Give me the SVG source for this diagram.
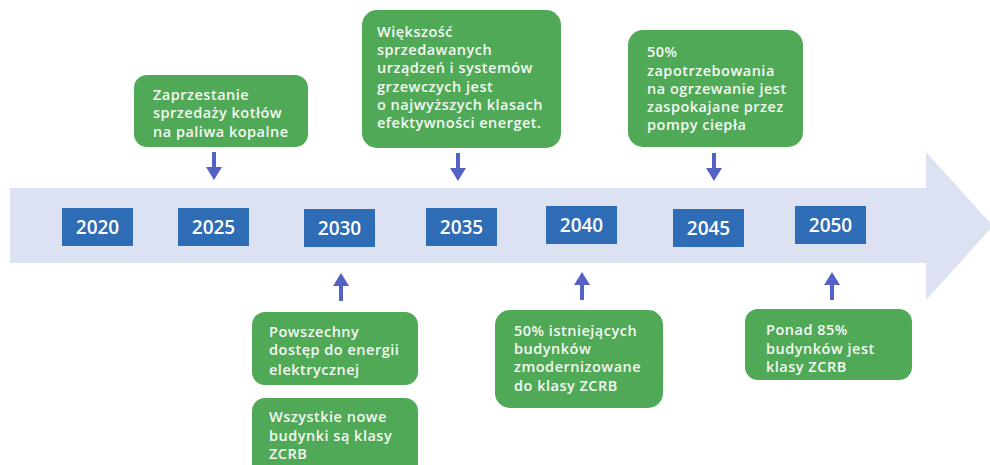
<svg xmlns="http://www.w3.org/2000/svg" width="990" height="465" viewBox="0 0 990 465">
  <defs>
    <style>
      .band { fill: #DCE2F2; }
      .year rect { fill: #2F6CB6; }
      .year text { fill: #FFFFFF; font-family: "Open Sans", "Liberation Sans", sans-serif; font-weight: 600; font-size: 19px; text-anchor: middle; }
      .note rect { fill: #50A957; }
      .note text { fill: #F4F8F2; font-family: "Open Sans", "Liberation Sans", sans-serif; font-weight: 600; font-size: 14.5px; letter-spacing: 0.5px; }
      .conn line { stroke: #5462C4; stroke-width: 4; fill: none; }
    </style>
    <marker id="head" viewBox="0 0 13 16" refX="0" refY="8" markerWidth="13" markerHeight="16" markerUnits="userSpaceOnUse" orient="auto">
      <path d="M0,0 L13,8 L0,16 Z" fill="#5462C4"/>
    </marker>
  </defs>
  <rect width="990" height="465" fill="#FFFFFF"/>

  <g id="timeline">
    <path class="band" d="M10,188 L926,188 L926,152 L993,226 L926,300 L926,263 L10,263 Z"/>
  </g>

  <g id="y2020" class="year"><rect x="62" y="208" width="71" height="38"/><text x="97.5" y="234">2020</text></g>
  <g id="y2025" class="year"><rect x="178" y="208" width="71" height="38"/><text x="213.5" y="234">2025</text></g>
  <g id="y2030" class="year"><rect x="304" y="209" width="71" height="38"/><text x="339.5" y="235">2030</text></g>
  <g id="y2035" class="year"><rect x="426" y="208" width="71" height="38"/><text x="461.5" y="234">2035</text></g>
  <g id="y2040" class="year"><rect x="546" y="206" width="71" height="38"/><text x="581.5" y="232">2040</text></g>
  <g id="y2045" class="year"><rect x="673" y="209" width="71" height="38"/><text x="708.5" y="235">2045</text></g>
  <g id="y2050" class="year"><rect x="795" y="206" width="71" height="38"/><text x="830.5" y="232">2050</text></g>

  <g id="n2025" class="note">
    <rect x="134" y="75" width="174" height="72" rx="13"/>
    <text x="153" y="100">Zaprzestanie</text>
    <text x="153" y="118">sprzedaży kotłów</text>
    <text x="153" y="137">na paliwa kopalne</text>
  </g>

  <g id="n2035" class="note">
    <rect x="362" y="10" width="199" height="138" rx="15"/>
    <text x="377" y="37">Większość</text>
    <text x="377" y="55">sprzedawanych</text>
    <text x="377" y="73">urządzeń i systemów</text>
    <text x="377" y="92">grzewczych jest</text>
    <text x="377" y="110">o najwyższych klasach</text>
    <text x="377" y="128">efektywności energet.</text>
  </g>

  <g id="n2045" class="note">
    <rect x="628" y="30" width="175" height="117" rx="15"/>
    <text x="647" y="57">50%</text>
    <text x="647" y="76">zapotrzebowania</text>
    <text x="647" y="94">na ogrzewanie jest</text>
    <text x="647" y="112">zaspokajane przez</text>
    <text x="647" y="130">pompy ciepła</text>
  </g>

  <g id="n2030a" class="note">
    <rect x="252" y="312" width="166" height="73" rx="13"/>
    <text x="269" y="337">Powszechny</text>
    <text x="269" y="355">dostęp do energii</text>
    <text x="269" y="375">elektrycznej</text>
  </g>

  <g id="n2030b" class="note">
    <rect x="252" y="398" width="166" height="80" rx="13"/>
    <text x="269" y="422">Wszystkie nowe</text>
    <text x="269" y="441">budynki są klasy</text>
    <text x="269" y="459">ZCRB</text>
  </g>

  <g id="n2040" class="note">
    <rect x="495" y="310" width="168" height="98" rx="15"/>
    <text x="514" y="336">50% istniejących</text>
    <text x="514" y="354">budynków</text>
    <text x="514" y="372">zmodernizowane</text>
    <text x="514" y="391">do klasy ZCRB</text>
  </g>

  <g id="n2050" class="note">
    <rect x="745" y="309" width="167" height="71" rx="13"/>
    <text x="766" y="335">Ponad 85%</text>
    <text x="766" y="354">budynków jest</text>
    <text x="766" y="372">klasy ZCRB</text>
  </g>

  <g id="connectors" class="conn">
    <line x1="214" y1="152" x2="214" y2="167" marker-end="url(#head)"/>
    <line x1="458" y1="153" x2="458" y2="168" marker-end="url(#head)"/>
    <line x1="714" y1="153" x2="714" y2="168" marker-end="url(#head)"/>
    <line x1="341" y1="301" x2="341" y2="286" marker-end="url(#head)"/>
    <line x1="582" y1="300" x2="582" y2="285" marker-end="url(#head)"/>
    <line x1="832" y1="300" x2="832" y2="285" marker-end="url(#head)"/>
  </g>
</svg>
